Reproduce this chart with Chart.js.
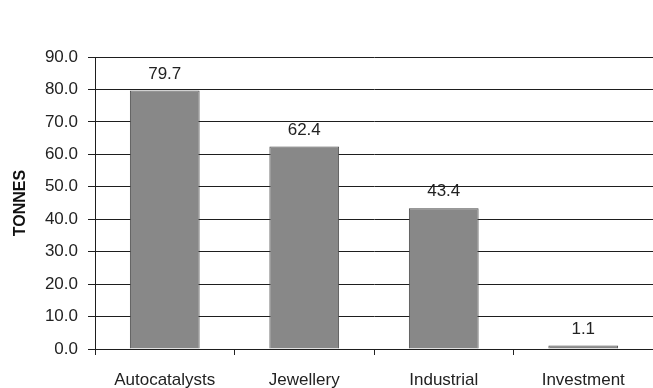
<!DOCTYPE html>
<html>
<head>
<meta charset="utf-8">
<script src="https://cdn.jsdelivr.net/npm/chart.js@4/dist/chart.umd.min.js"></script>
<style>
  html, body { margin: 0; padding: 0; background: #fff; }
  #wrap { width: 653px; height: 388px; }
</style>
</head>
<body>
<div id="wrap"><canvas id="myChart" width="653" height="388"></canvas></div>
<script>
// Datos del gráfico
const categories = ['Autocatalysts', 'Jewellery', 'Industrial', 'Investment'];
const tonnes = [79.7, 62.4, 43.4, 1.1];
const yTicks = [0, 10, 20, 30, 40, 50, 60, 70, 80, 90];

// etiquetas encima de cada barra
const barLabels = {
    id: 'barLabels',
    afterDatasetsDraw(chart) {
        const ctx = chart.ctx;
        const meta = chart.getDatasetMeta(0);
        ctx.save();
        ctx.font = '17px "Liberation Sans", Arial, sans-serif';
        ctx.fillStyle = '#222';
        ctx.textAlign = 'center';
        ctx.textBaseline = 'bottom';
        meta.data.forEach((bar, i) => {
            ctx.fillText(tonnes[i].toFixed(1), bar.x, bar.y - 8);
        });
        ctx.restore();
    }
};

function createChart() {
    const ctx = document.getElementById('myChart').getContext('2d');
    new Chart(ctx, {
        type: 'bar',
        data: {
            labels: categories,
            datasets: [{
                data: tonnes,
                backgroundColor: '#888888',
                borderColor: '#4a4a4a',
                borderWidth: 1,
                barPercentage: 0.5,
                categoryPercentage: 1.0
            }]
        },
        options: {
            responsive: false,
            animation: false,
            layout: { padding: { top: 57, right: 0, bottom: 0, left: 0 } },
            plugins: {
                legend: { display: false },
                tooltip: { enabled: false }
            },
            scales: {
                x: {
                    grid: {
                        offset: true,
                        drawOnChartArea: false,
                        drawTicks: true,
                        tickLength: 6,
                        color: '#222'
                    },
                    border: { display: false },
                    ticks: {
                        color: '#222',
                        padding: 15,
                        font: { family: '"Liberation Sans", Arial, sans-serif', size: 17 }
                    },
                    afterFit(scale) { scale.height = 39; }
                },
                y: {
                    min: 0,
                    max: 90,
                    afterBuildTicks(scale) {
                        scale.ticks = yTicks.map(v => ({ value: v }));
                    },
                    grid: {
                        color: '#1e1e1e',
                        tickLength: 7,
                        lineWidth: 1
                    },
                    border: { color: '#1e1e1e', width: 1 },
                    ticks: {
                        color: '#222',
                        padding: 10,
                        font: { family: '"Liberation Sans", Arial, sans-serif', size: 17 }
                        ,
                        callback: v => Number(v).toFixed(1)
                    },
                    title: {
                        display: true,
                        text: 'TONNES',
                        color: '#111',
                        padding: { top: 11, bottom: 6 },
                        font: { family: '"Liberation Sans", Arial, sans-serif', size: 16, weight: 'bold' }
                    },
                    afterFit(scale) { scale.width = 95; }
                }
            }
        },
        plugins: [barLabels]
    });
}

document.addEventListener('DOMContentLoaded', createChart);
</script>
</body>
</html>
